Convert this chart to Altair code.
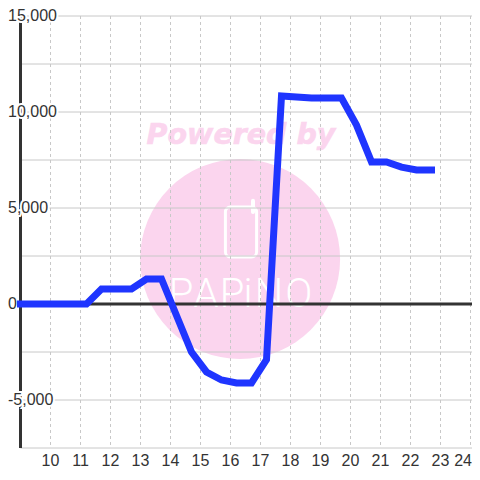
import altair as alt
import pandas as pd

hours = [9, 9.7, 10.2, 10.7, 11.2, 11.7, 12.2, 12.7, 13.2, 13.7, 14.2, 14.7, 15.2, 15.7, 16.2, 16.7,
         17.2, 17.7, 18.2, 18.7, 19.2, 19.7, 20.2, 20.7, 21.2, 21.7, 22.2, 22.7]
values = [0, 0, 0, 0, 0, 780, 780, 780, 1300, 1300, -600, -2500, -3540, -3960, -4110, -4110,
          -2900, 10830, 10780, 10730, 10730, 10730, 9320, 7400, 7400, 7130, 6980, 6980]
x_ticks = list(range(10, 25))
x_text = [str(v) for v in range(10, 24)]
last_tick = [24]
last_text = ["24"]
y_grid = [-5000, -2500, 0, 2500, 5000, 7500, 10000, 12500, 15000]
y_labels = [15000, 10000, 5000, 0, -5000]
y_text = ["15,000", "10,000", "5,000", "0", "-5,000"]

logo_x = [16.32]
logo_y = [2344]
logo_title = ["Powered by"]
title_x = [16.35]
title_y = [8800]
phone_x = [15.83]
phone_x2 = [16.87]
phone_y = [5052]
phone_y2 = [2448]
antenna_x = [16.75]
antenna_y = [5380]
antenna_y2 = [4790]
letters = ["P", "A", "P", "i", "N", "O"]
letter_x = [14.35, 15.18, 16.05, 16.58, 17.28, 18.28]
letter_y = [-156] * 6

X_DOM = [9, 24.05]
Y_DOM = [-7500, 15000]
xs = alt.Scale(domain=X_DOM, nice=False, zero=False)
ys = alt.Scale(domain=Y_DOM, nice=False, zero=False)
PINK = "#fbd5ee"
GRID = "#c8c8c8"
DARK = "#333333"
FONT = "Liberation Sans"

X = alt.X("x:Q", scale=xs, axis=None)
Y = alt.Y("y:Q", scale=ys, axis=None)

df = pd.DataFrame({"x": hours, "y": values})

circle = alt.Chart(pd.DataFrame({"x": logo_x, "y": logo_y})).mark_point(
    filled=True, shape="circle", size=40000, color=PINK, opacity=1).encode(x=X, y=Y)
title = alt.Chart(pd.DataFrame({"x": title_x, "y": title_y, "t": logo_title})).mark_text(
    font="DejaVu Sans", fontSize=28.5, fontWeight="bold", fontStyle="italic", color=PINK,
    stroke=PINK, strokeWidth=0.6
).encode(x=X, y=Y, text="t:N")
phone = alt.Chart(pd.DataFrame({"x": phone_x, "x2": phone_x2, "y": phone_y, "y2": phone_y2})).mark_rect(
    fillOpacity=0, stroke="white", strokeWidth=3, cornerRadius=5
).encode(x=X, x2="x2:Q", y=Y, y2="y2:Q")
antenna = alt.Chart(pd.DataFrame({"x": antenna_x, "y": antenna_y, "y2": antenna_y2})).mark_rule(
    color="white", strokeWidth=4, strokeCap="round"
).encode(x=X, y=Y, y2="y2:Q")
logo_text = alt.Chart(pd.DataFrame({"x": letter_x, "y": letter_y, "t": letters})).mark_text(
    font="Roboto", fontSize=40, fontWeight=300, baseline="alphabetic", color="white"
).encode(x=X, y=Y, text="t:N")

vgrid = alt.Chart(pd.DataFrame({"x": x_ticks, "y": Y_DOM[1], "y2": Y_DOM[0]})).mark_rule(
    color=GRID, strokeWidth=1, strokeDash=[3, 3]
).encode(x=X, y=Y, y2="y2:Q")
hgrid = alt.Chart(pd.DataFrame({"y": y_grid + [Y_DOM[0]], "x": X_DOM[0], "x2": X_DOM[1]})).mark_rule(
    color=GRID, strokeWidth=1
).encode(y=Y, x=X, x2="x2:Q")
yaxis_line = alt.Chart(pd.DataFrame({"x": [X_DOM[0]], "y": [Y_DOM[1]], "y2": [Y_DOM[0]]})).mark_rule(
    color=DARK, strokeWidth=3).encode(x=X, y=Y, y2="y2:Q")
zero_line = alt.Chart(pd.DataFrame({"y": [0], "x": [X_DOM[0]], "x2": [X_DOM[1]]})).mark_rule(
    color=DARK, strokeWidth=3).encode(y=Y, x=X, x2="x2:Q")

lab = pd.DataFrame({"y": y_labels, "t": y_text, "x": X_DOM[0]})
halo = alt.Chart(lab).mark_text(
    align="left", baseline="middle", dx=-12.5, font=FONT, fontSize=16, color="white",
    stroke="white", strokeWidth=4
).encode(x=X, y=Y, text="t:N")
labels = alt.Chart(lab).mark_text(
    align="left", baseline="middle", dx=-12.5, font=FONT, fontSize=16, color=DARK
).encode(x=X, y=Y, text="t:N")

xlab = alt.Chart(pd.DataFrame({"x": x_ticks[:-1], "t": x_text, "y": Y_DOM[0]})).mark_text(
    align="center", baseline="middle", dy=13, font=FONT, fontSize=16, color=DARK
).encode(x=X, y=Y, text="t:N")
xlab_last = alt.Chart(pd.DataFrame({"x": last_tick, "t": last_text, "y": Y_DOM[0]})).mark_text(
    align="right", baseline="middle", dx=1.5, dy=13, font=FONT, fontSize=16, color=DARK
).encode(x=X, y=Y, text="t:N")

line = alt.Chart(df).mark_line(
    color="#1f35ff", strokeWidth=7, strokeCap="square", strokeJoin="miter", interpolate="linear"
).encode(x=X, y=Y)

chart = alt.layer(circle, title, phone, antenna, logo_text, vgrid, hgrid, yaxis_line, zero_line,
                  halo, labels, xlab, xlab_last, line).properties(
    width=451.5, height=432, autosize=alt.AutoSizeParams(type="none"),
    padding={"left": 12.5, "top": 8, "right": 0, "bottom": 24},
    background="white",
).configure_view(stroke=None)

chart.save("out.html", embed_options={"renderer": "svg", "actions": False})
